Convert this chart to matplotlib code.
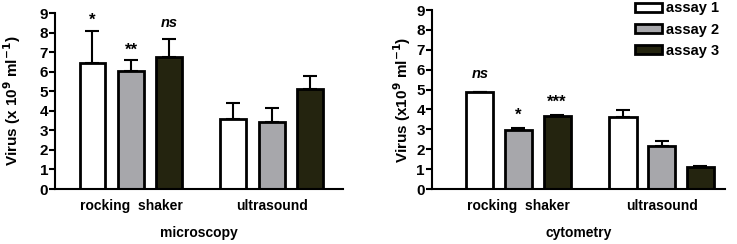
import numpy as np
import matplotlib
matplotlib.use("Agg")
import matplotlib.pyplot as plt
from matplotlib.patches import Patch

plt.rcParams['font.family'] = ['Liberation Sans', 'DejaVu Sans']
plt.rcParams['font.weight'] = 'bold'

# данные
groups = ["rocking  shaker", "ultrasound"]
series = ["assay 1", "assay 2", "assay 3"]
colors = ["#ffffff", "#a7a7ab", "#24240f"]

micro_vals = [[6.43, 3.57], [6.06, 3.45], [6.74, 5.10]]
micro_err = [[1.66, 0.85], [0.55, 0.68], [0.96, 0.67]]
micro_marks = ["*", "**", "ns"]

cyto_vals = [[4.86, 3.62], [2.98, 2.18], [3.67, 1.12]]
cyto_err = [[0.0, 0.33], [0.10, 0.24], [0.06, 0.04]]
cyto_marks = ["ns", "*", "***"]

fig = plt.figure(figsize=(7.37, 2.44), dpi=100)
ax1 = fig.add_axes([0.0746, 0.2254, 0.3908, 0.7201])
ax2 = fig.add_axes([0.586, 0.2254, 0.398, 0.7336])


def draw(ax, vals, errs, marks, spacing, width, xlim, ylabel, xlabel, mark_y,
         ylab_x, xlab_y):
    x = np.arange(len(groups))
    for i in range(len(series)):
        pos = x + (i - 1) * spacing
        ax.bar(pos, vals[i], width, color=colors[i], edgecolor='black',
               linewidth=2, label=series[i], zorder=2)
        ax.errorbar(pos, vals[i], yerr=[np.zeros(len(groups)), errs[i]],
                    fmt='none', ecolor='black', elinewidth=1.5, capsize=5,
                    capthick=1.5, zorder=1)
        if marks[i] == 'ns':
            ax.text(pos[0], mark_y[i], marks[i], ha='center', va='baseline',
                    fontsize=10.5, fontweight='bold', style='italic')
        else:
            ax.text(pos[0], mark_y[i], marks[i], ha='center', va='baseline',
                    fontsize=12, fontweight='bold')
    ax.set_xlim(*xlim)
    ax.set_ylim(0, 9)
    ax.set_yticks(range(10))
    ax.set_xticks(x)
    ax.set_xticklabels(groups, fontsize=10, fontweight='bold')
    ax.tick_params(axis='x', length=0, pad=7)
    ax.tick_params(axis='y', length=4, width=1.5, labelsize=11, pad=1)
    for s in ['top', 'right']:
        ax.spines[s].set_visible(False)
    for s in ['left', 'bottom']:
        ax.spines[s].set_linewidth(1.5)
    ax.set_ylabel(ylabel, fontsize=11, fontweight='bold', va='center')
    ax.yaxis.set_label_coords(ylab_x, 0.5)
    ax.set_xlabel(xlabel, fontsize=10, fontweight='bold', va='center')
    ax.xaxis.set_label_coords(0.5, xlab_y)


draw(ax1, micro_vals, micro_err, micro_marks, 0.273, 0.184, (-0.539, 1.504),
     r"Virus (x 10$^{\mathbf{9}}$ ml$^{\mathbf{-1}}$)", "microscopy",
     [8.39, 6.9, 8.29], -0.149, -0.25)
draw(ax2, cyto_vals, cyto_err, cyto_marks, 0.27, 0.19, (-0.605, 1.444),
     r"Virus (x10$^{\mathbf{9}}$ ml$^{\mathbf{-1}}$)", "cytometry",
     [5.58, 3.47, 4.12], -0.102, -0.246)

handles = [Patch(facecolor=c, edgecolor='black', linewidth=2) for c in colors]
ax2.legend(handles, series, loc='upper right', bbox_to_anchor=(1.015, 1.105),
           frameon=False, handlelength=1.85, handleheight=0.55,
           handletextpad=0.3, labelspacing=0.5, borderpad=0.2,
           prop={'weight': 'bold', 'size': 10.5})

fig.savefig("out.png", dpi=100)
